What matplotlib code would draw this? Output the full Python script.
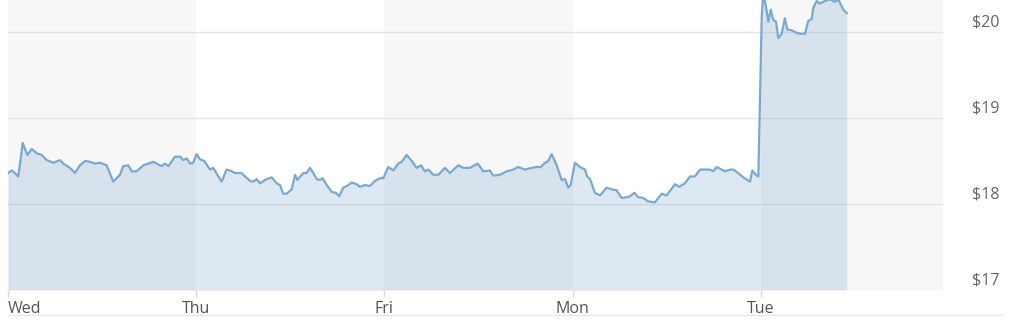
import matplotlib
matplotlib.use("Agg")
import matplotlib.pyplot as plt
from matplotlib.lines import Line2D
from matplotlib.transforms import ScaledTranslation

plt.rcParams['font.family'] = ['Open Sans', 'DejaVu Sans']

# trading-day position (0 = Wed open) and share price
days = ["Wed", "Thu", "Fri", "Mon", "Tue"]
y_ticks = [17, 18, 19, 20]
y_labels = ["$17", "$18", "$19", "$20"]

t = [0.000, 0.020, 0.037, 0.055, 0.078, 0.103, 0.126, 0.152, 0.179, 0.206,
     0.241, 0.276, 0.294, 0.329, 0.356, 0.382, 0.409, 0.436, 0.462, 0.489,
     0.524, 0.559, 0.595, 0.612, 0.639, 0.657, 0.684, 0.719, 0.745, 0.772,
     0.816, 0.834, 0.852, 0.887, 0.914, 0.931, 0.949, 0.967, 0.984,
     1.002, 1.020, 1.043, 1.073, 1.090, 1.135, 1.161, 1.179, 1.206, 1.241,
     1.259, 1.286, 1.303, 1.321, 1.339, 1.365, 1.401, 1.427, 1.445, 1.462,
     1.480, 1.507, 1.525, 1.537, 1.569, 1.587, 1.604, 1.622, 1.640, 1.657,
     1.672, 1.693, 1.720, 1.742, 1.760, 1.781, 1.808, 1.826, 1.852, 1.870,
     1.896, 1.923, 1.950, 1.976, 1.994,
     2.020, 2.047, 2.073, 2.091, 2.118, 2.145, 2.171, 2.194, 2.215, 2.233,
     2.259, 2.286, 2.321, 2.348, 2.392, 2.419, 2.454, 2.495, 2.525, 2.560,
     2.578, 2.614, 2.649, 2.684, 2.711, 2.746, 2.782, 2.808, 2.830, 2.853,
     2.870, 2.888, 2.915, 2.941, 2.959, 2.976, 2.989,
     3.012, 3.038, 3.065, 3.077, 3.092, 3.118, 3.145, 3.180, 3.207, 3.233,
     3.260, 3.287, 3.304, 3.327, 3.348, 3.375, 3.401, 3.437, 3.473, 3.499,
     3.526, 3.543, 3.565, 3.596, 3.623, 3.649, 3.676, 3.703, 3.729, 3.747,
     3.765, 3.791, 3.809, 3.835, 3.853, 3.879, 3.906, 3.942, 3.954, 3.972,
     3.986,
     4.004, 4.012, 4.027, 4.039, 4.052, 4.065, 4.080, 4.092, 4.110, 4.127,
     4.140, 4.163, 4.190, 4.207, 4.234, 4.251, 4.269, 4.278, 4.296, 4.313,
     4.340, 4.366, 4.393, 4.411, 4.437, 4.456]

price = [18.36, 18.39, 18.36, 18.32, 18.71, 18.57, 18.64, 18.59, 18.57, 18.51,
         18.48, 18.51, 18.47, 18.42, 18.36, 18.45, 18.50, 18.49, 18.47, 18.48,
         18.45, 18.26, 18.34, 18.44, 18.45, 18.38, 18.38, 18.45, 18.47, 18.49,
         18.44, 18.47, 18.44, 18.55, 18.55, 18.51, 18.53, 18.47, 18.48,
         18.58, 18.52, 18.50, 18.40, 18.42, 18.26, 18.40, 18.39, 18.36, 18.36,
         18.32, 18.27, 18.26, 18.29, 18.24, 18.28, 18.31, 18.24, 18.22, 18.12,
         18.12, 18.17, 18.34, 18.28, 18.36, 18.36, 18.42, 18.36, 18.29, 18.28,
         18.30, 18.22, 18.14, 18.13, 18.09, 18.19, 18.22, 18.25, 18.23, 18.20,
         18.22, 18.21, 18.27, 18.30, 18.30,
         18.43, 18.39, 18.47, 18.49, 18.57, 18.50, 18.42, 18.45, 18.38, 18.40,
         18.34, 18.34, 18.42, 18.36, 18.45, 18.42, 18.42, 18.47, 18.38, 18.39,
         18.33, 18.34, 18.38, 18.40, 18.43, 18.40, 18.42, 18.43, 18.43, 18.48,
         18.50, 18.58, 18.45, 18.28, 18.29, 18.19, 18.22,
         18.48, 18.43, 18.40, 18.32, 18.29, 18.13, 18.10, 18.19, 18.17, 18.16,
         18.07, 18.08, 18.09, 18.13, 18.08, 18.07, 18.03, 18.02, 18.12, 18.10,
         18.18, 18.23, 18.20, 18.24, 18.32, 18.32, 18.40, 18.40, 18.40, 18.38,
         18.43, 18.40, 18.38, 18.40, 18.40, 18.36, 18.31, 18.26, 18.39, 18.34,
         18.32,
         20.18, 20.45, 20.29, 20.12, 20.26, 20.14, 20.12, 19.93, 19.98, 20.16,
         20.03, 20.02, 19.99, 19.98, 19.98, 20.13, 20.15, 20.28, 20.36, 20.33,
         20.36, 20.38, 20.35, 20.38, 20.26, 20.22]

fig = plt.figure(figsize=(10.24, 3.25), dpi=100)
ax = fig.add_axes([8 / 1024, 35 / 325, 935 / 1024, 290 / 325])

x_max = 4.967
ax.set_xlim(0, x_max)
ax.set_ylim(17, 20.372)

# alternating day bands
for i, start in enumerate(range(len(days))):
    if i % 2 == 0:
        ax.axvspan(start, min(start + 1, x_max) if i < 4 else x_max,
                   color='#f7f7f7', lw=0, zorder=0)

for y in y_ticks:
    ax.axhline(y, color='#e3e3e3', lw=1, zorder=1)

ax.fill_between(t, 17, price, color='#7aa7cc', alpha=0.25, lw=0, zorder=2)
ax.plot(t, price, color='#7aa9d0', lw=1.6, zorder=3)

for s in ax.spines.values():
    s.set_visible(False)

ax.set_yticks([])
ax.set_xticks(range(len(days)))
ax.set_xticklabels(days, fontsize=11.5, color='#555555')
ax.get_xticklabels()[0].set_horizontalalignment('left')
ax.tick_params(axis='x', length=5, width=1, color='#d8d8d8', pad=3)

offset = ScaledTranslation(0.29, 0.09, fig.dpi_scale_trans)
for y, lab in zip(y_ticks, y_labels):
    ax.text(1.0, y, lab, transform=ax.get_yaxis_transform() + offset,
            ha='left', va='center', fontsize=11.5, color='#666666')

fig.add_artist(Line2D([8 / 1024, 1003 / 1024], [10 / 325, 10 / 325],
                      color='#e6e6e6', lw=1))

fig.savefig("out.png", dpi=100)
